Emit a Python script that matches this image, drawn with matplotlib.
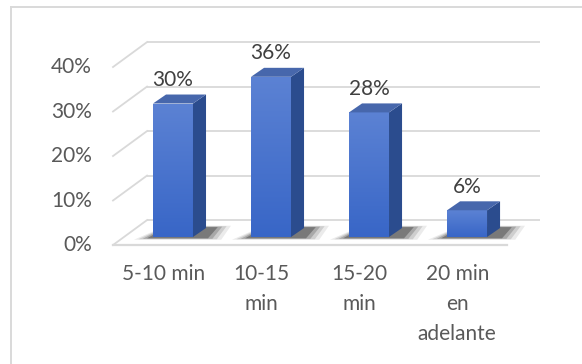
import numpy as np
import matplotlib
matplotlib.use("Agg")
import matplotlib.pyplot as plt
from matplotlib.patches import Polygon
from matplotlib.lines import Line2D

categories = ["5-10 min", "10-15\nmin", "15-20\nmin", "20 min\nen\nadelante"]
values = [30, 36, 28, 6]
value_labels = ["30%", "36%", "28%", "6%"]
tick_values = [0, 10, 20, 30, 40]
tick_labels = ["0%", "10%", "20%", "30%", "40%"]

plt.rcParams["font.family"] = ["Lato", "DejaVu Sans"]
TEXT = "#595959"
GRID = "#d9d9d9"

fig = plt.figure(figsize=(5.82, 3.64), dpi=100)
ax = fig.add_axes([0, 0, 1, 1])
ax.axis("off")

# chart frame (top and left edges)
fig.add_artist(Line2D([11 / 582, 1], [1 - 7 / 364, 1 - 7 / 364], color=GRID, lw=1.4,
                      transform=fig.transFigure))
fig.add_artist(Line2D([11 / 582, 11 / 582], [0, 1 - 7 / 364], color=GRID, lw=1.4,
                      transform=fig.transFigure))

# 3D geometry (in data units)
front_dv = -1.8       # floor front edge relative to bar base
back_dv = 3.8         # back wall base relative to bar base
x_front_left, x_back_left = -0.612, -0.265
x_front_right, x_back_right = 3.408, 3.745
half_w = 0.204
dx, dv = 0.133, 2.02

# back wall gridlines and left-side diagonals
for g in tick_values:
    ax.plot([x_back_left, x_back_right], [g + back_dv, g + back_dv], color=GRID, lw=1.3,
            solid_capstyle="butt", zorder=1)
    ax.plot([x_front_left, x_back_left], [g + front_dv, g + back_dv], color=GRID, lw=1.3,
            zorder=1)
# floor front edge
ax.plot([x_front_left, x_front_right], [front_dv, front_dv], color=GRID, lw=1.6, zorder=1)

# y tick labels
for g, lab in zip(tick_values, tick_labels):
    ax.text(-0.83, g - 1.9, lab, ha="right", va="center", fontsize=15, color=TEXT)

top_c, bot_c = np.array([0.36, 0.51, 0.83]), np.array([0.22, 0.40, 0.78])
grad = np.linspace(0, 1, 256)[:, None, None]
grad_img = top_c * (1 - grad) + bot_c * grad

for i, (v, lab, cat) in enumerate(zip(values, value_labels, categories)):
    xl, xr = i - half_w, i + half_w
    # soft shadow on the floor around the bar base
    for k, a in enumerate([0.08, 0.12, 0.18, 0.28]):
        s = 0.045 * (3 - k)
        t = 0.35 * (3 - k)
        shadow = Polygon([(xl - 0.06 - s, -0.3 - t * 0.3), (xr + dx + 0.02 + s, -0.3 - t * 0.3),
                          (xr + dx + 0.12 + s, dv + 0.2 + t * 0.3), (xl + dx, dv + 0.2 + t * 0.3)],
                         closed=True, facecolor="black", edgecolor="none", alpha=a, zorder=2)
        ax.add_patch(shadow)
    # front face with vertical gradient
    front = Polygon([(xl, 0), (xr, 0), (xr, v), (xl, v)], closed=True,
                    facecolor="none", edgecolor="none", zorder=4)
    ax.add_patch(front)
    im = ax.imshow(grad_img, extent=(xl, xr, 0, v), origin="upper", aspect="auto", zorder=4)
    im.set_clip_path(front)
    # side face
    ax.add_patch(Polygon([(xr, 0), (xr + dx, dv), (xr + dx, v + dv), (xr, v)], closed=True,
                         facecolor="#2b4c8e", edgecolor="none", zorder=4))
    # top face
    ax.add_patch(Polygon([(xl, v), (xr, v), (xr + dx, v + dv), (xl + dx, v + dv)], closed=True,
                         facecolor="#4767ac", edgecolor="none", zorder=5))
    # value label
    ax.text(i, v + 5.3, lab, ha="center", va="center", fontsize=15, color="#404040", zorder=6)
    # category label
    ax.text(i - 0.1, -6.0, cat, ha="center", va="top", fontsize=15, color=TEXT,
            linespacing=1.62)

ax.set_xlim(-1.765, 4.173)
ax.set_ylim(-28.54, 53.26)
fig.savefig("out.png", dpi=100)
